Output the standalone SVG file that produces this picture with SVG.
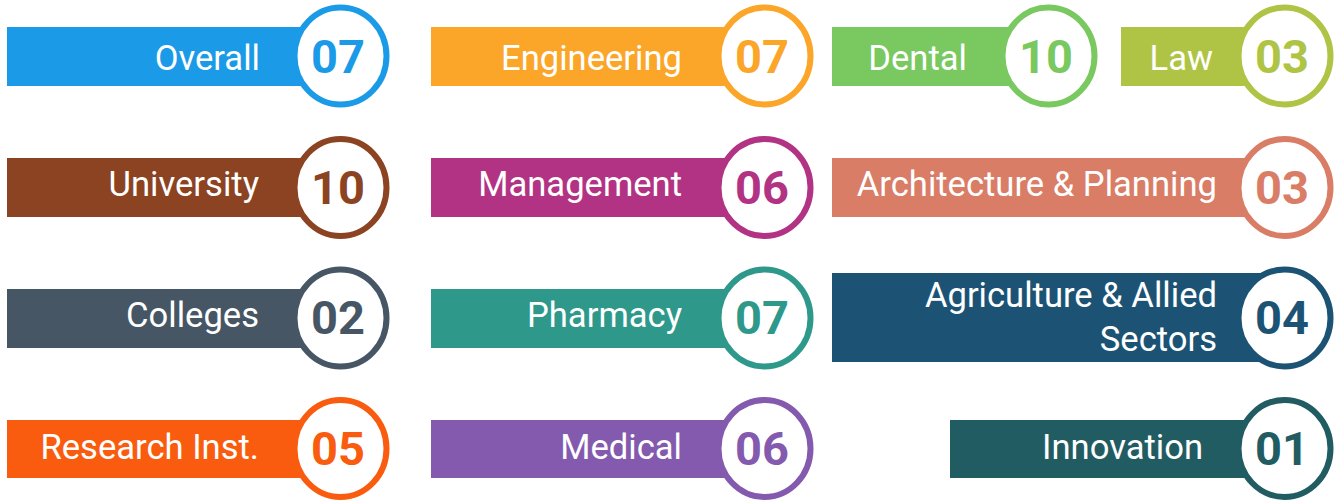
<svg xmlns="http://www.w3.org/2000/svg" width="1337" height="502" viewBox="0 0 1337 502">
<style>
.lbl{font-family:Roboto,"Liberation Sans",sans-serif;font-size:34.6px;fill:#fff;text-anchor:end}
.num{font-family:Roboto,"Liberation Sans",sans-serif;font-size:47px;font-weight:bold;text-anchor:middle}
.ring{fill:#fff;stroke-width:6}
</style>
<rect width="1337" height="502" fill="#fff"/>
<g id="overall"><rect x="7" y="27" width="333" height="59" fill="#1B9AE8"/><ellipse class="ring" cx="340.5" cy="56" rx="46" ry="48.5" stroke="#1B9AE8"/><text class="lbl" transform="translate(260,70) scale(1,1.04)">Overall</text><text class="num" x="338" y="73" fill="#1B9AE8">07</text></g>
<g id="engineering"><rect x="431" y="27" width="333" height="59" fill="#FBA628"/><ellipse class="ring" cx="764.5" cy="56" rx="46" ry="48.5" stroke="#FBA628"/><text class="lbl" transform="translate(682,70) scale(1,1.04)">Engineering</text><text class="num" x="762" y="73" fill="#FBA628">07</text></g>
<g id="dental"><rect x="832" y="27" width="216" height="59" fill="#79C860"/><ellipse class="ring" cx="1048.5" cy="56" rx="46" ry="48.5" stroke="#79C860"/><text class="lbl" transform="translate(967,70) scale(1,1.04)">Dental</text><text class="num" x="1046" y="73" fill="#79C860">10</text></g>
<g id="law"><rect x="1121" y="27" width="163" height="59" fill="#AFC445"/><ellipse class="ring" cx="1284.5" cy="56" rx="46" ry="48.5" stroke="#AFC445"/><text class="lbl" transform="translate(1213,70) scale(1,1.04)">Law</text><text class="num" x="1282" y="73" fill="#AFC445">03</text></g>

<g id="university"><rect x="7" y="158" width="333" height="59" fill="#8B4321"/><ellipse class="ring" cx="340.5" cy="187.5" rx="46" ry="48.5" stroke="#8B4321"/><text class="lbl" transform="translate(259,196) scale(1,1.04)">University</text><text class="num" x="338" y="204" fill="#8B4321">10</text></g>
<g id="management"><rect x="431" y="158" width="333" height="59" fill="#B23383"/><ellipse class="ring" cx="764.5" cy="187.5" rx="46" ry="48.5" stroke="#B23383"/><text class="lbl" transform="translate(682,196) scale(1,1.04)">Management</text><text class="num" x="762" y="204" fill="#B23383">06</text></g>
<g id="architecture"><rect x="832" y="158" width="452" height="59" fill="#D97D66"/><ellipse class="ring" cx="1284.5" cy="187.5" rx="46" ry="48.5" stroke="#D97D66"/><text class="lbl" transform="translate(1217,196) scale(1,1.04)">Architecture &amp; Planning</text><text class="num" x="1282" y="204" fill="#D97D66">03</text></g>

<g id="colleges"><rect x="7" y="289" width="333" height="59" fill="#465665"/><ellipse class="ring" cx="340.5" cy="318" rx="46" ry="48.5" stroke="#465665"/><text class="lbl" transform="translate(259,327) scale(1,1.04)">Colleges</text><text class="num" x="338" y="334" fill="#465665">02</text></g>
<g id="pharmacy"><rect x="431" y="289" width="333" height="59" fill="#2E998B"/><ellipse class="ring" cx="764.5" cy="318" rx="46" ry="48.5" stroke="#2E998B"/><text class="lbl" transform="translate(682,327) scale(1,1.04)">Pharmacy</text><text class="num" x="762" y="334" fill="#2E998B">07</text></g>
<g id="agriculture"><rect x="832" y="273" width="452" height="89" fill="#1C5374"/><ellipse class="ring" cx="1284.5" cy="318" rx="46" ry="48.5" stroke="#1C5374"/><text class="lbl" transform="translate(1217,307) scale(1,1.04)">Agriculture &amp; Allied</text><text class="lbl" transform="translate(1217,351) scale(1,1.04)">Sectors</text><text class="num" x="1282" y="334" fill="#1C5374">04</text></g>

<g id="research"><rect x="7" y="420" width="333" height="58" fill="#F95C0E"/><ellipse class="ring" cx="340.5" cy="448.5" rx="46" ry="48.5" stroke="#F95C0E"/><text class="lbl" transform="translate(259,459) scale(1,1.04)">Research Inst.</text><text class="num" x="338" y="465" fill="#F95C0E">05</text></g>
<g id="medical"><rect x="431" y="420" width="333" height="58" fill="#835AAE"/><ellipse class="ring" cx="764.5" cy="448.5" rx="46" ry="48.5" stroke="#835AAE"/><text class="lbl" transform="translate(682,459) scale(1,1.04)">Medical</text><text class="num" x="762" y="465" fill="#835AAE">06</text></g>
<g id="innovation"><rect x="950" y="420" width="334" height="58" fill="#225C63"/><ellipse class="ring" cx="1284.5" cy="448.5" rx="46" ry="48.5" stroke="#225C63"/><text class="lbl" transform="translate(1203,459) scale(1,1.04)">Innovation</text><text class="num" x="1282" y="465" fill="#225C63">01</text></g>
<g id="connectors"/>
</svg>
